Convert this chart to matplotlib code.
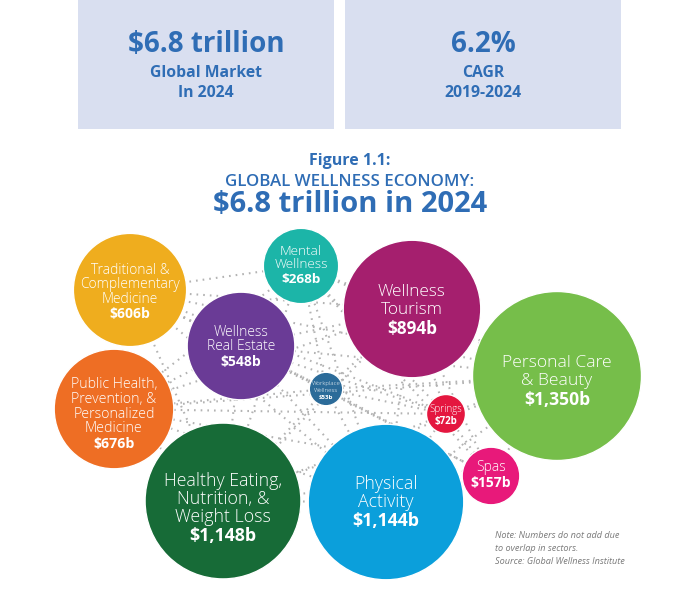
import matplotlib
matplotlib.use("Agg")
import matplotlib.pyplot as plt
from matplotlib.patches import Circle, Rectangle
import numpy as np
from itertools import combinations

plt.rcParams["font.family"] = ["Open Sans", "DejaVu Sans"]

# --- data -----------------------------------------------------------------
sectors = [
    "Traditional &\nComplementary\nMedicine",
    "Mental\nWellness",
    "Wellness\nTourism",
    "Wellness\nReal Estate",
    "Personal Care\n& Beauty",
    "Public Health,\nPrevention, &\nPersonalized\nMedicine",
    "Workplace\nWellness",
    "Springs",
    "Spas",
    "Healthy Eating,\nNutrition, &\nWeight Loss",
    "Physical\nActivity",
]
values_b = [606, 268, 894, 548, 1350, 676, 53, 72, 157, 1148, 1144]
value_labels = ["$606b", "$268b", "$894b", "$548b", "$1,350b", "$676b",
                "$53b", "$72b", "$157b", "$1,148b", "$1,144b"]
colors = ["#EFAD1E", "#1CB5A8", "#A51F6E", "#6A3B96", "#76BE4A", "#EE6E24",
          "#2B6B99", "#E4173F", "#E8197A", "#176B37", "#0B9FDB"]

headline_values = ["$6.8 trillion", "6.2%"]
headline_labels = ["Global Market\nIn 2024", "CAGR\n2019-2024"]

# --- layout (pixel coords, y down) ------------------------------------------
centers = [(130, 290), (301, 266), (412, 309), (241, 346), (557, 376),
           (114, 409), (326, 389), (446, 414), (491, 476), (223, 501),
           (386, 502)]
text_dy = [2, -1, 1, 1, 5, 5, 1, 1, -1, 7, 0]
font_pt = [10.0, 9.7, 12.4, 10.0, 12.6, 10.2, 4.4, 7.0, 10.0, 12.8, 12.8]
px_per_sqrt = 2.3
BLUE = "#2F6DB5"

fig = plt.figure(figsize=(7, 6), dpi=100)
ax = fig.add_axes([0, 0, 1, 1])
ax.set_xlim(0, 700)
ax.set_ylim(600, 0)
ax.set_aspect("equal")
ax.axis("off")

# headline boxes
for (x0, x1), big, small in zip([(78, 334), (345, 621)], headline_values, headline_labels):
    ax.add_patch(Rectangle((x0, 0), x1 - x0, 129, facecolor="#D9DFF0", edgecolor="none"))
    xc = (x0 + x1) / 2
    ax.text(xc, 45, big, ha="center", va="center", color=BLUE,
            fontsize=20, fontweight="bold")
    ax.text(xc, 73, small.split("\n")[0], ha="center", va="center", color=BLUE,
            fontsize=11.3, fontweight="bold")
    ax.text(xc, 93, small.split("\n")[1], ha="center", va="center", color=BLUE,
            fontsize=11.3, fontweight="bold")

# title
ax.text(350, 161, "Figure 1.1:", ha="center", va="center", color=BLUE,
        fontsize=11.5, fontweight="bold")
ax.text(350, 182, "GLOBAL WELLNESS ECONOMY:", ha="center", va="center",
        color=BLUE, fontsize=12.2, fontweight="semibold")
ax.text(350, 205, "$6.8 trillion in 2024", ha="center", va="center",
        color=BLUE, fontsize=21, fontweight="bold")

# dotted network behind the bubbles
for i, j in combinations(range(len(centers)), 2):
    (xa, ya), (xb, yb) = centers[i], centers[j]
    ax.plot([xa, xb], [ya, yb], color="#B3B3B3", lw=1.5,
            linestyle=(0, (0.8, 2.4)), zorder=1)

# bubbles
for name, v, vl, c, (cx, cy), fs, dy in zip(sectors, values_b, value_labels,
                                              colors, centers, font_pt, text_dy):
    r = px_per_sqrt * np.sqrt(v)
    ax.add_patch(Circle((cx, cy), r, facecolor=c, edgecolor="white",
                        lw=1.0, zorder=2))
    lines = name.split("\n")
    n = len(lines) + 1
    lh = fs * 100 / 72 * 1.03
    y0 = cy + dy - (n - 1) * lh / 2
    for k, line in enumerate(lines):
        ax.text(cx, y0 + k * lh, line, ha="center", va="center",
                color="white", fontsize=fs, fontweight="light", zorder=3)
    ax.text(cx, y0 + len(lines) * lh + 1, vl, ha="center", va="center",
            color="white", fontsize=fs, fontweight="bold", zorder=3)

# footnote
notes = ["Note: Numbers do not add due", "to overlap in sectors.",
         "Source: Global Wellness Institute"]
for k, line in enumerate(notes):
    ax.text(495, 536 + k * 12.5, line, ha="left", va="center", color="#7A7A7A",
            fontsize=6.6, style="italic")

fig.savefig("out.png", dpi=100)
